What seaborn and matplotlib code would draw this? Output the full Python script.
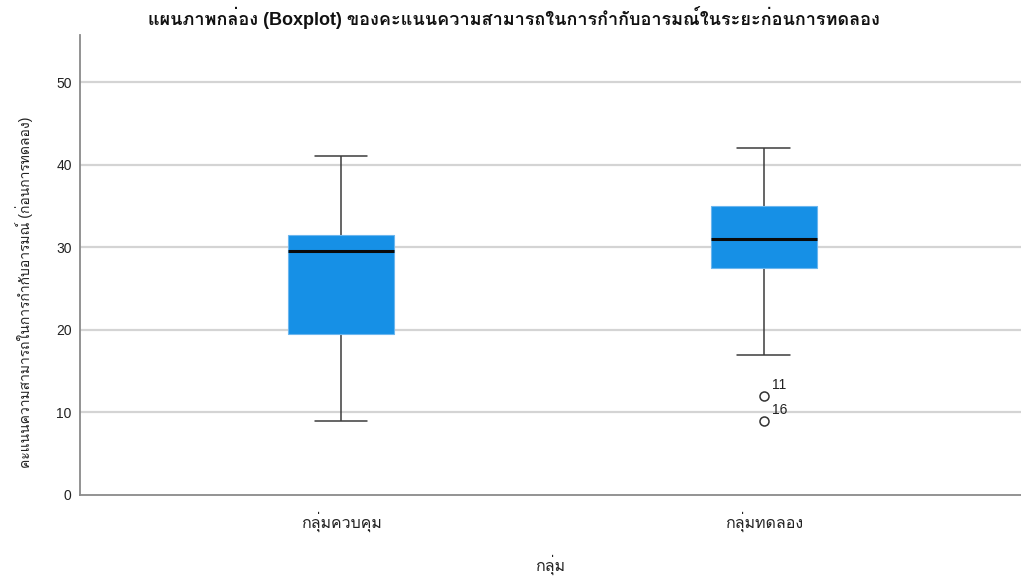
import matplotlib
matplotlib.use("Agg")
import matplotlib.pyplot as plt
from matplotlib import font_manager, ft2font
import numpy as np
import pandas as pd
import seaborn as sns

# Emotion-regulation scores before the intervention, by group
groups = ["กลุ่มควบคุม", "กลุ่มทดลอง"]
control_scores = [9, 12, 15, 17, 19, 21, 25, 28, 29, 30, 30, 30, 30, 32, 34, 36, 38, 41]
experimental_scores = [9, 12, 17, 22, 27, 29, 30, 30, 31, 31, 32, 33, 35, 35, 36, 38, 40, 42]
# case numbers of the flagged low scores, lowest score first
outlier_case_ids = ["16", "11"]

title = "แผนภาพกล่อง (Boxplot) ของคะแนนความสามารถในการกำกับอารมณ์ในระยะก่อนการทดลอง"
y_label = "คะแนนความสามารถในการกำกับอารมณ์ (ก่อนการทดลอง)"
x_label = "กลุ่ม"
y_ticks = [0, 10, 20, 30, 40, 50]


def find_thai_family():
    for f in font_manager.fontManager.ttflist:
        try:
            cmap = ft2font.FT2Font(f.fname).get_charmap()
        except Exception:
            continue
        if ord("ก") in cmap:
            return f.name
    return None


sns.set_theme(style="white")
thai = find_thai_family()
families = ["Liberation Sans"] + ([thai] if thai else []) + ["DejaVu Sans"]
plt.rcParams["font.family"] = families

df = pd.DataFrame({
    "group": [groups[0]] * len(control_scores) + [groups[1]] * len(experimental_scores),
    "score": control_scores + experimental_scores,
})

fig = plt.figure(figsize=(10.21, 5.82), dpi=100)
ax = fig.add_axes([80 / 1021, 1 - 495 / 582, (1021 - 80) / 1021, (495 - 35) / 582])

for y in y_ticks[1:]:
    ax.axhline(y, color="#d4d4d4", lw=1.6, zorder=0)

sns.boxplot(
    data=df, x="group", y="score", order=groups, ax=ax,
    width=0.25, color="#1690e6", saturation=1,
    boxprops=dict(facecolor="#1690e6", edgecolor="#6cb6ee", linewidth=0.8, zorder=3),
    medianprops=dict(color="#0a0a0a", linewidth=2.2, zorder=4),
    whiskerprops=dict(color="#3c3c3c", linewidth=1.1),
    capprops=dict(color="#3c3c3c", linewidth=1.1),
    capwidths=0.125,
    flierprops=dict(marker="o", markersize=6.5, markerfacecolor="white",
                    markeredgecolor="#333333", markeredgewidth=1.1),
)

# label the flagged cases in the treatment group
exp = np.array(experimental_scores)
q1, q3 = np.percentile(exp, [25, 75])
low_fence = q1 - 1.5 * (q3 - q1)
low_points = np.sort(exp[exp < low_fence])
for val, cid in zip(low_points, outlier_case_ids):
    ax.annotate(cid, (1, val), xytext=(6, 5), textcoords="offset points",
                fontsize=10, color="#222222")

ax.set_xlim(-0.617, 1.608)
ax.set_ylim(0, 55.7)
ax.set_yticks(y_ticks)
ax.tick_params(axis="both", length=0, labelsize=10, colors="#222222")
ax.tick_params(axis="x", labelsize=11.5, pad=12)
ax.tick_params(axis="y", pad=6)

for side in ["top", "right"]:
    ax.spines[side].set_visible(False)
for side in ["left", "bottom"]:
    ax.spines[side].set_color("#8a8a8a")
    ax.spines[side].set_linewidth(1.3)

ax.set_xlabel(x_label, fontsize=11.5, color="#222222")
ax.xaxis.set_label_coords(0.5, -0.13)
ax.set_ylabel(y_label, fontsize=10, color="#222222")
ax.yaxis.set_label_coords(-0.05, 0.44)
fig.suptitle(title, x=0.503, y=0.99, fontsize=13, fontweight="bold", color="#111111")

fig.savefig("out.png", dpi=100)
